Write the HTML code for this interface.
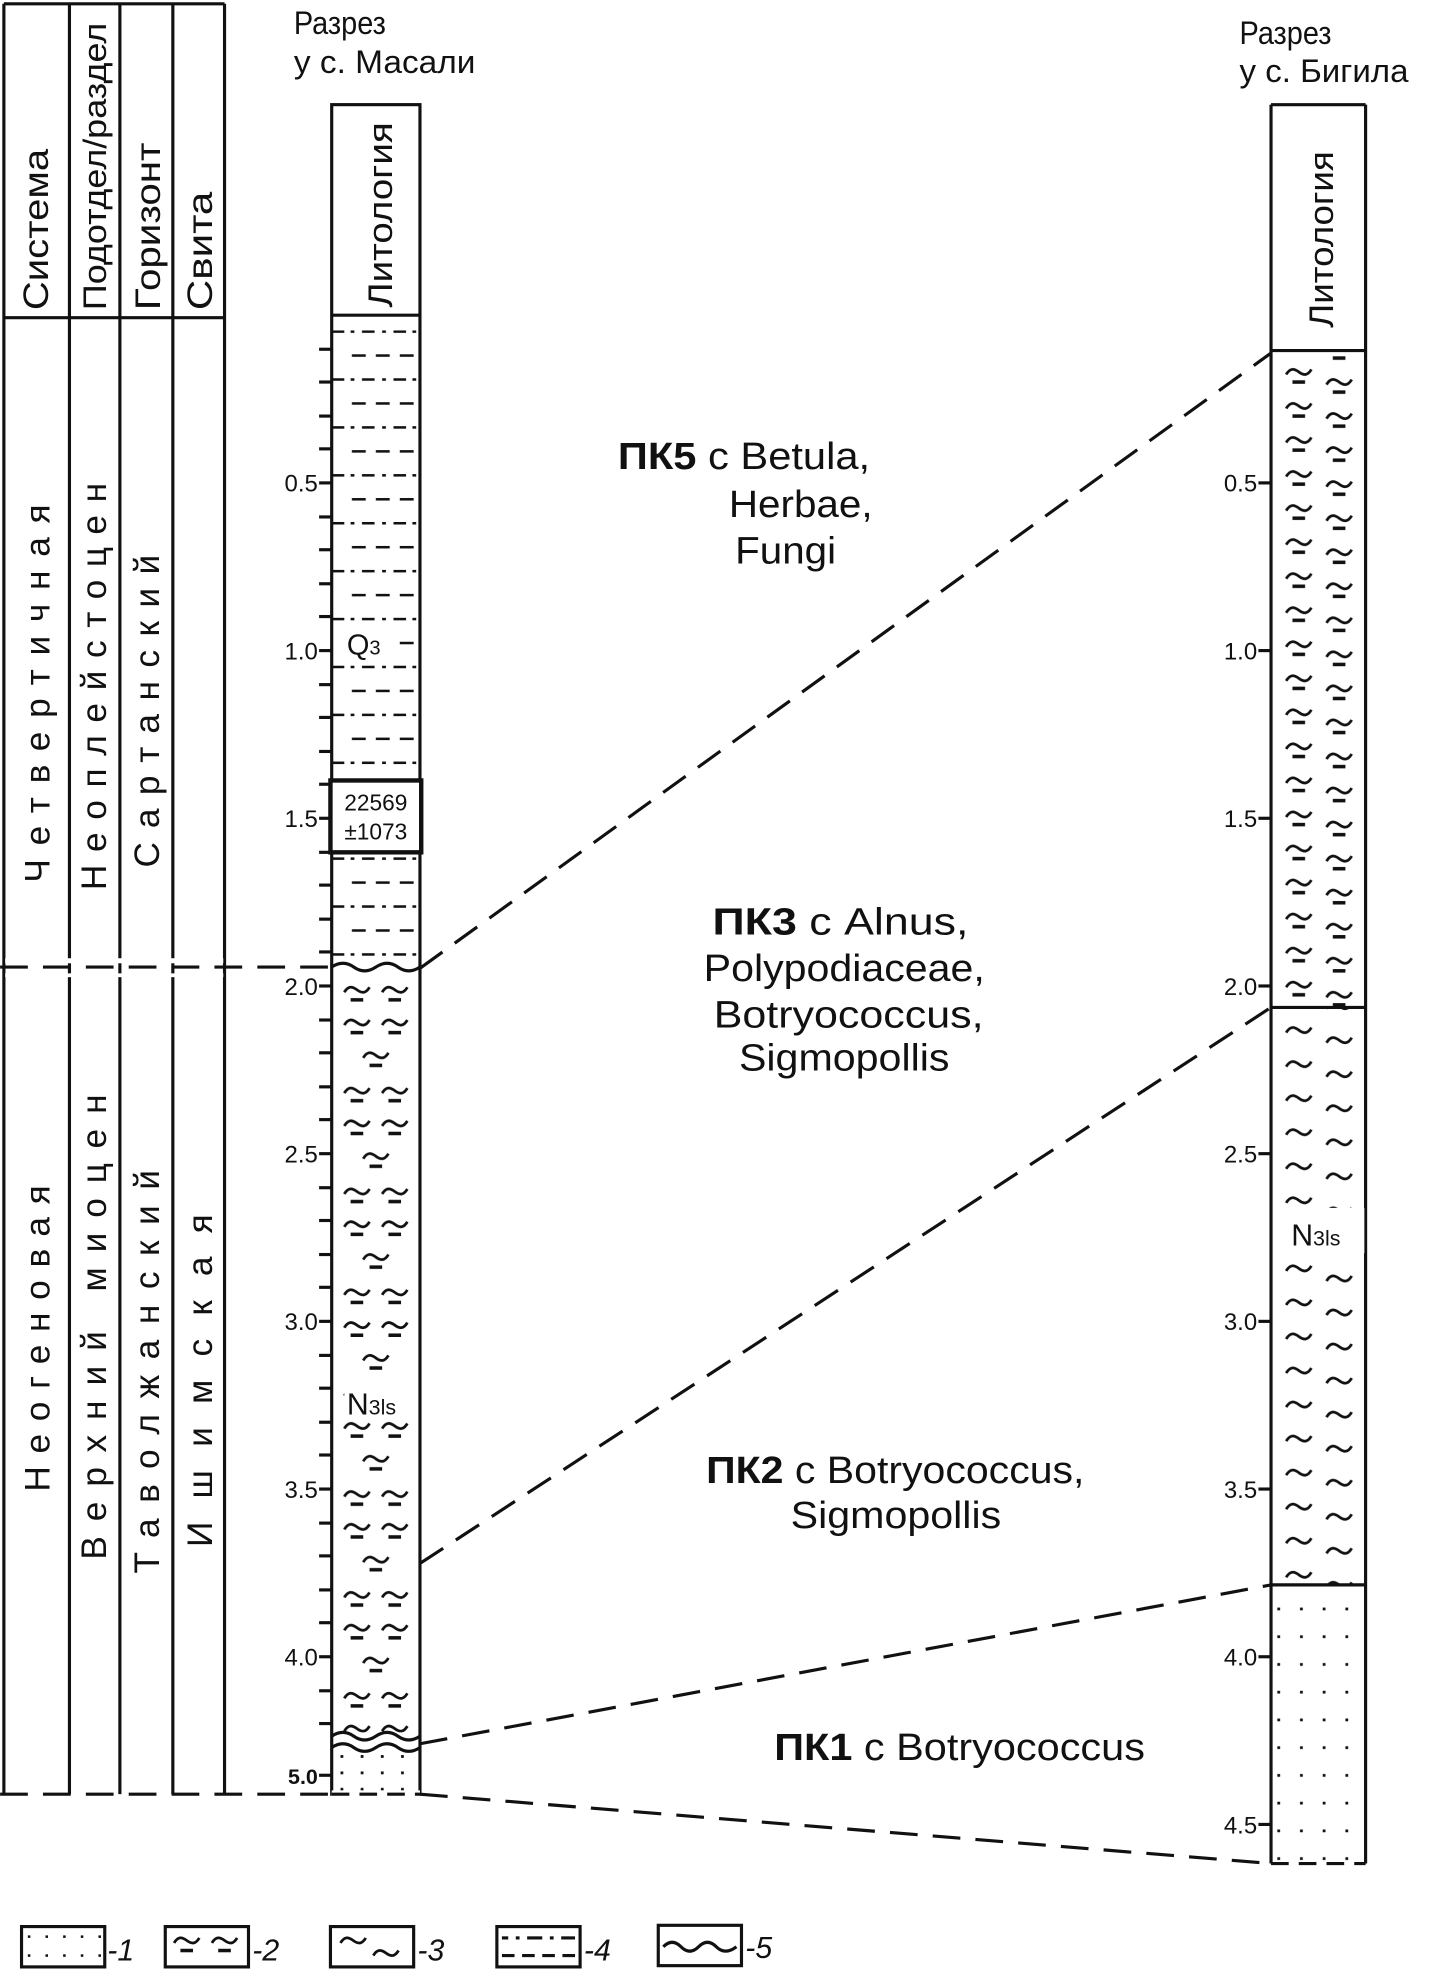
<!DOCTYPE html>
<html><head><meta charset="utf-8"><style>
html,body{margin:0;padding:0;background:#fff}
svg{display:block}
text{font-family:"Liberation Sans",Arial,sans-serif;fill:#111}
</style></head><body>
<svg width="1430" height="1977" viewBox="0 0 1134 1568" xmlns="http://www.w3.org/2000/svg">
<defs>
<pattern id="p4" patternUnits="userSpaceOnUse" x="263" y="262" width="70" height="38">
 <g stroke="#111" stroke-width="2">
  <line x1="0" y1="1" x2="10" y2="1"/><line x1="15" y1="1" x2="18" y2="1"/>
  <line x1="24" y1="1" x2="34" y2="1"/><line x1="40" y1="1" x2="43" y2="1"/>
  <line x1="49" y1="1" x2="59" y2="1"/><line x1="64" y1="1" x2="67" y2="1"/>
  <line x1="16" y1="20" x2="27" y2="20"/><line x1="35" y1="20" x2="46" y2="20"/><line x1="54" y1="20" x2="65" y2="20"/>
 </g>
</pattern>
<g id="til"><path d="M0,5 C3,0 6,0 10,3 C14,6 17,6 20,1" fill="none" stroke="#111" stroke-width="2.2"/></g>
<g id="teq"><use href="#til"/><line x1="5" y1="11" x2="15" y2="11" stroke="#111" stroke-width="2.8"/></g>
<pattern id="p2" patternUnits="userSpaceOnUse" x="263" y="780" width="70" height="80">
 <use href="#teq" x="10" y="2"/><use href="#teq" x="40" y="2"/>
 <use href="#teq" x="10" y="28"/><use href="#teq" x="40" y="28"/>
 <use href="#teq" x="25" y="54"/>
</pattern>
<pattern id="pb2" patternUnits="userSpaceOnUse" x="1008" y="290" width="75" height="27">
 <use href="#teq" x="12" y="2"/><use href="#teq" x="44" y="10"/>
</pattern>
<pattern id="pb3" patternUnits="userSpaceOnUse" x="1008" y="812" width="75" height="27">
 <use href="#til" x="12" y="2"/><use href="#til" x="44" y="10"/>
</pattern>
<pattern id="p1" patternUnits="userSpaceOnUse" x="1008" y="1270" width="18" height="22">
 <rect x="5" y="5" width="2.2" height="2.2" fill="#111"/>
</pattern>
<pattern id="p1m" patternUnits="userSpaceOnUse" x="263" y="1388" width="16" height="13">
 <rect x="7" y="4" width="2.2" height="2.2" fill="#111"/>
</pattern>
</defs>

<!-- left table -->
<g stroke="#111" stroke-width="2.5" fill="none">
 <line x1="3" y1="3" x2="178" y2="3"/>
 <line x1="3" y1="3" x2="3" y2="1423"/>
 <line x1="55" y1="3" x2="55" y2="1423"/>
 <line x1="95" y1="3" x2="95" y2="1423"/>
 <line x1="137" y1="3" x2="137" y2="1423"/>
 <line x1="178" y1="3" x2="178" y2="1423"/>
 <line x1="3" y1="252" x2="178" y2="252"/>
</g>
<rect x="4" y="760" width="173" height="4" fill="#fff"/>
<rect x="4" y="772" width="173" height="3" fill="#fff"/>
<g stroke="#111" stroke-width="2.5" stroke-dasharray="22,12">
 <line x1="0" y1="767" x2="263" y2="767"/>
 <line x1="0" y1="1423" x2="263" y2="1423"/>
</g>

<g font-size="28">
 <text transform="translate(38,246) rotate(-90)" textLength="128" lengthAdjust="spacingAndGlyphs">Система</text>
 <text transform="translate(84,246) rotate(-90)" font-size="26" textLength="228" lengthAdjust="spacingAndGlyphs">Подотдел/раздел</text>
 <text transform="translate(127,246) rotate(-90)" textLength="133" lengthAdjust="spacingAndGlyphs">Горизонт</text>
 <text transform="translate(168,246) rotate(-90)" textLength="94" lengthAdjust="spacingAndGlyphs">Свита</text>
 <text transform="translate(39,700) rotate(-90)" textLength="300" lengthAdjust="spacing">Четвертичная</text>
 <text transform="translate(39,1183) rotate(-90)" textLength="243" lengthAdjust="spacing">Неогеновая</text>
 <text transform="translate(84,706) rotate(-90)" textLength="323" lengthAdjust="spacing">Неоплейстоцен</text>
 <text transform="translate(84,1237) rotate(-90)" textLength="369" lengthAdjust="spacing">Верхний миоцен</text>
 <text transform="translate(126,688) rotate(-90)" textLength="248" lengthAdjust="spacing">Сартанский</text>
 <text transform="translate(126,1248) rotate(-90)" textLength="320" lengthAdjust="spacing">Таволжанский</text>
 <text transform="translate(168,1227) rotate(-90)" textLength="264" lengthAdjust="spacing">Ишимская</text>
</g>

<!-- Masali -->
<text x="233" y="27" font-size="26" textLength="73" lengthAdjust="spacingAndGlyphs">Разрез</text>
<text x="233" y="58" font-size="26" textLength="144" lengthAdjust="spacingAndGlyphs">у с. Масали</text>
<rect x="263" y="262" width="70" height="506" fill="url(#p4)"/>
<rect x="263" y="778" width="70" height="596" fill="url(#p2)"/>
<rect x="263" y="1388" width="70" height="35" fill="url(#p1m)"/>
<g stroke="#111" stroke-width="2.5" fill="none">
 <rect x="263" y="83" width="70" height="1340"/>
 <line x1="263" y1="250" x2="333" y2="250"/>
 <path d="M263,767 q9,-6 17.5,0 t17.5,0 t17.5,0 t17.5,0"/>
 <path d="M263,1377 q9,-6 17.5,0 t17.5,0 t17.5,0 t17.5,0"/>
 <path d="M263,1386 q9,-6 17.5,0 t17.5,0 t17.5,0 t17.5,0"/>
</g>
<rect x="263" y="1420" width="70" height="6" fill="#fff"/>
<line x1="263" y1="1423" x2="333" y2="1423" stroke="#111" stroke-width="2.5" stroke-dasharray="14,8"/>
<g stroke="#111" stroke-width="2.5">
 <line x1="253" y1="277" x2="263" y2="277"/><line x1="253" y1="303" x2="263" y2="303"/><line x1="253" y1="330" x2="263" y2="330"/><line x1="253" y1="356" x2="263" y2="356"/><line x1="253" y1="383" x2="263" y2="383"/>
 <line x1="253" y1="410" x2="263" y2="410"/><line x1="253" y1="436" x2="263" y2="436"/><line x1="253" y1="463" x2="263" y2="463"/><line x1="253" y1="489" x2="263" y2="489"/><line x1="253" y1="516" x2="263" y2="516"/>
 <line x1="253" y1="543" x2="263" y2="543"/><line x1="253" y1="569" x2="263" y2="569"/><line x1="253" y1="596" x2="263" y2="596"/><line x1="253" y1="622" x2="263" y2="622"/><line x1="253" y1="649" x2="263" y2="649"/>
 <line x1="253" y1="676" x2="263" y2="676"/><line x1="253" y1="702" x2="263" y2="702"/><line x1="253" y1="729" x2="263" y2="729"/><line x1="253" y1="755" x2="263" y2="755"/><line x1="253" y1="782" x2="263" y2="782"/>
 <line x1="253" y1="809" x2="263" y2="809"/><line x1="253" y1="835" x2="263" y2="835"/><line x1="253" y1="862" x2="263" y2="862"/><line x1="253" y1="888" x2="263" y2="888"/><line x1="253" y1="915" x2="263" y2="915"/>
 <line x1="253" y1="942" x2="263" y2="942"/><line x1="253" y1="968" x2="263" y2="968"/><line x1="253" y1="995" x2="263" y2="995"/><line x1="253" y1="1021" x2="263" y2="1021"/><line x1="253" y1="1048" x2="263" y2="1048"/>
 <line x1="253" y1="1075" x2="263" y2="1075"/><line x1="253" y1="1101" x2="263" y2="1101"/><line x1="253" y1="1128" x2="263" y2="1128"/><line x1="253" y1="1154" x2="263" y2="1154"/><line x1="253" y1="1181" x2="263" y2="1181"/>
 <line x1="253" y1="1208" x2="263" y2="1208"/><line x1="253" y1="1234" x2="263" y2="1234"/><line x1="253" y1="1261" x2="263" y2="1261"/><line x1="253" y1="1287" x2="263" y2="1287"/><line x1="253" y1="1314" x2="263" y2="1314"/>
 <line x1="253" y1="1341" x2="263" y2="1341"/><line x1="253" y1="1367" x2="263" y2="1367"/><line x1="253" y1="1408" x2="263" y2="1408"/>
</g>
<g font-size="19" text-anchor="end">
 <text x="252" y="390">0.5</text><text x="252" y="523">1.0</text><text x="252" y="656">1.5</text><text x="252" y="789">2.0</text>
 <text x="252" y="922">2.5</text><text x="252" y="1055">3.0</text><text x="252" y="1188">3.5</text><text x="252" y="1321">4.0</text>
 <text x="252" y="1415" font-weight="bold" font-size="17">5.0</text>
</g>
<rect x="274" y="494" width="38" height="30" fill="#fff"/>
<text x="275" y="519" font-size="23">Q<tspan font-size="16">3</tspan></text>
<rect x="273" y="1094" width="54" height="32" fill="#fff"/>
<text x="275" y="1122" font-size="24">N<tspan font-size="17">3ls</tspan></text>
<rect x="262" y="619" width="72" height="57" fill="#fff" stroke="#111" stroke-width="3.5"/>
<text x="298" y="643" font-size="18" text-anchor="middle">22569</text>
<text x="298" y="666" font-size="18" text-anchor="middle">±1073</text>

<!-- Bigila -->
<text x="983" y="35" font-size="26" textLength="73" lengthAdjust="spacingAndGlyphs">Разрез</text>
<text x="983" y="65" font-size="26" textLength="134" lengthAdjust="spacingAndGlyphs">у с. Бигила</text>
<rect x="1008" y="278" width="75" height="521" fill="url(#pb2)"/>
<rect x="1008" y="799" width="75" height="458" fill="url(#pb3)"/>
<rect x="1008" y="1257" width="75" height="221" fill="url(#p1)"/>
<g stroke="#111" stroke-width="2.5" fill="none">
 <line x1="1008" y1="83" x2="1083" y2="83"/>
 <line x1="1008" y1="83" x2="1008" y2="1478"/>
 <line x1="1083" y1="83" x2="1083" y2="1478"/>
 <line x1="1008" y1="278" x2="1083" y2="278"/>
 <line x1="1008" y1="799" x2="1083" y2="799"/>
 <line x1="1008" y1="1257" x2="1083" y2="1257"/>
</g>
<line x1="1008" y1="1478" x2="1083" y2="1478" stroke="#111" stroke-width="2.5" stroke-dasharray="14,8"/>
<text transform="translate(1057,260) rotate(-90)" font-size="27" textLength="140" lengthAdjust="spacingAndGlyphs">Литология</text>
<text transform="translate(311,244) rotate(-90)" font-size="27" textLength="147" lengthAdjust="spacingAndGlyphs">Литология</text>
<g stroke="#111" stroke-width="2.5">
 <line x1="998" y1="383" x2="1008" y2="383"/><line x1="998" y1="516" x2="1008" y2="516"/><line x1="998" y1="649" x2="1008" y2="649"/><line x1="998" y1="782" x2="1008" y2="782"/>
 <line x1="998" y1="915" x2="1008" y2="915"/><line x1="998" y1="1048" x2="1008" y2="1048"/><line x1="998" y1="1181" x2="1008" y2="1181"/><line x1="998" y1="1314" x2="1008" y2="1314"/><line x1="998" y1="1447" x2="1008" y2="1447"/>
</g>
<g font-size="19" text-anchor="end">
 <text x="997" y="390">0.5</text><text x="997" y="523">1.0</text><text x="997" y="656">1.5</text><text x="997" y="789">2.0</text>
 <text x="997" y="922">2.5</text><text x="997" y="1055">3.0</text><text x="997" y="1188">3.5</text><text x="997" y="1321">4.0</text><text x="997" y="1454">4.5</text>
</g>
<rect x="1018" y="958" width="64" height="36" fill="#fff"/>
<text x="1024" y="988" font-size="24">N<tspan font-size="17">3ls</tspan></text>

<!-- correlation lines -->
<g stroke="#111" stroke-width="2.5" stroke-dasharray="22,12" fill="none">
 <line x1="333" y1="768" x2="1008" y2="280"/>
 <line x1="333" y1="1240" x2="1008" y2="799"/>
 <line x1="333" y1="1383" x2="1008" y2="1257"/>
 <line x1="333" y1="1423" x2="1008" y2="1478"/>
</g>

<!-- labels -->
<g font-size="30">
 <text x="490" y="372" textLength="200" lengthAdjust="spacingAndGlyphs"><tspan font-weight="bold">ПК5</tspan> с Betula,</text>
 <text x="578" y="410" textLength="114" lengthAdjust="spacingAndGlyphs">Herbae,</text>
 <text x="583" y="447" textLength="80" lengthAdjust="spacingAndGlyphs">Fungi</text>
 <text x="565" y="741" textLength="203" lengthAdjust="spacingAndGlyphs"><tspan font-weight="bold">ПК3</tspan>  с Alnus,</text>
 <text x="558" y="778" textLength="223" lengthAdjust="spacingAndGlyphs">Polypodiaceae,</text>
 <text x="566" y="815" textLength="214" lengthAdjust="spacingAndGlyphs">Botryococcus,</text>
 <text x="586" y="849" textLength="167" lengthAdjust="spacingAndGlyphs">Sigmopollis</text>
 <text x="560" y="1176" textLength="300" lengthAdjust="spacingAndGlyphs"><tspan font-weight="bold">ПК2</tspan> с Botryococcus,</text>
 <text x="627" y="1212" textLength="167" lengthAdjust="spacingAndGlyphs">Sigmopollis</text>
 <text x="614" y="1396" textLength="294" lengthAdjust="spacingAndGlyphs"><tspan font-weight="bold">ПК1</tspan> с Botryococcus</text>
</g>

<!-- legend -->
<g stroke="#111" stroke-width="2.5" fill="none">
 <rect x="17" y="1528" width="66" height="32"/>
 <rect x="131" y="1528" width="66" height="32"/>
 <rect x="262" y="1528" width="66" height="32"/>
 <rect x="394" y="1528" width="66" height="32"/>
 <rect x="522" y="1527" width="66" height="32"/>
 <path d="M526,1544 q7,-7 14,0 t14,0 t14,0 t16,0"/>
 <line x1="398" y1="1537" x2="403" y2="1537"/><line x1="409" y1="1537" x2="412" y2="1537"/><line x1="418" y1="1537" x2="430" y2="1537"/><line x1="436" y1="1537" x2="439" y2="1537"/><line x1="445" y1="1537" x2="456" y2="1537"/>
 <line x1="398" y1="1551" x2="408" y2="1551"/><line x1="414" y1="1551" x2="424" y2="1551"/><line x1="430" y1="1551" x2="440" y2="1551"/><line x1="446" y1="1551" x2="456" y2="1551"/>
</g>
<use href="#teq" x="138" y="1536"/><use href="#teq" x="168" y="1536"/>
<use href="#til" x="270" y="1536"/><use href="#til" x="296" y="1546"/>
<g fill="#111">
 <rect x="22" y="1535" width="2" height="2"/><rect x="36" y="1535" width="2" height="2"/><rect x="50" y="1535" width="2" height="2"/><rect x="64" y="1535" width="2" height="2"/><rect x="78" y="1535" width="2" height="2"/>
 <rect x="22" y="1550" width="2" height="2"/><rect x="36" y="1550" width="2" height="2"/><rect x="50" y="1550" width="2" height="2"/><rect x="64" y="1550" width="2" height="2"/><rect x="78" y="1550" width="2" height="2"/>
</g>
<g font-size="24" font-style="italic">
 <text x="85" y="1555">-1</text>
 <text x="200" y="1555">-2</text>
 <text x="331" y="1555">-3</text>
 <text x="463" y="1555">-4</text>
 <text x="591" y="1553">-5</text>
</g>
</svg>
</body></html>
